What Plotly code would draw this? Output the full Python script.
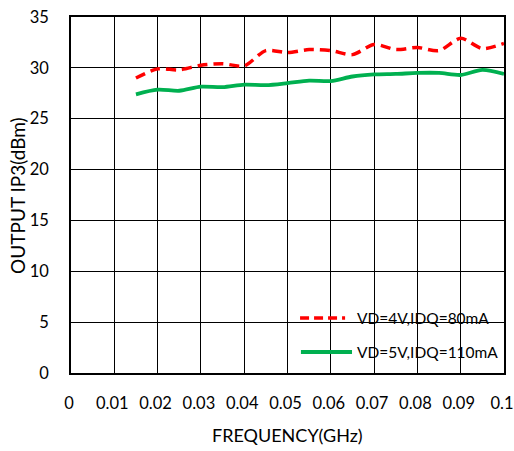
import plotly.graph_objects as go

freq = [0.015, 0.02, 0.025, 0.03, 0.035, 0.04, 0.045, 0.05, 0.055, 0.06,
        0.065, 0.07, 0.075, 0.08, 0.085, 0.09, 0.095, 0.1]
ip3_4v = [29.0, 29.9, 29.8, 30.25, 30.4, 30.2, 31.7, 31.5, 31.8, 31.7,
          31.3, 32.3, 31.8, 32.0, 31.7, 32.9, 31.9, 32.4]
ip3_5v = [27.4, 27.85, 27.75, 28.15, 28.1, 28.35, 28.3, 28.5, 28.75, 28.7,
          29.15, 29.35, 29.4, 29.5, 29.5, 29.3, 29.8, 29.4]
name_4v = "VD=4V,IDQ=80mA"
name_5v = "VD=5V,IDQ=110mA"
x_ticks = [0, 0.01, 0.02, 0.03, 0.04, 0.05, 0.06, 0.07, 0.08, 0.09, 0.1]
x_labels = ["0", "0.01", "0.02", "0.03", "0.04", "0.05", "0.06", "0.07", "0.08", "0.09", "0.1"]
y_ticks = [0, 5, 10, 15, 20, 25, 30, 35]

FONT = "Lato"
RED = "#FF0000"
GREEN = "#00B050"
RED_DASH = "10px,6px"

fig = go.Figure()
fig.add_trace(go.Scatter(x=freq, y=ip3_4v, mode="lines", name=name_4v, showlegend=False,
                         line=dict(color=RED, width=3.5, dash=RED_DASH, shape="spline", smoothing=0.8)))
fig.add_trace(go.Scatter(x=freq, y=ip3_5v, mode="lines", name=name_5v, showlegend=False,
                         line=dict(color=GREEN, width=3.8, shape="spline", smoothing=0.8)))

# legend area (white box covering gridlines)
fig.add_shape(type="rect", xref="paper", yref="paper", x0=0.513, x1=1.0, y0=0.0, y1=0.205,
              fillcolor="white", line=dict(width=0), layer="between")
# legend samples
fig.add_shape(type="line", xref="paper", yref="paper", x0=0.529, x1=0.633, y0=0.1545, y1=0.1545,
              line=dict(color=RED, width=3.5, dash="9px,5px"), layer="above")
fig.add_shape(type="line", xref="paper", yref="paper", x0=0.531, x1=0.649, y0=0.059, y1=0.059,
              line=dict(color=GREEN, width=3.8), layer="above")
fig.add_annotation(text=name_4v, xref="paper", yref="paper", x=0.656, y=0.1545, xanchor="left",
                   yanchor="middle", showarrow=False, font=dict(size=15.5, family=FONT))
fig.add_annotation(text=name_5v, xref="paper", yref="paper", x=0.656, y=0.059, xanchor="left",
                   yanchor="middle", showarrow=False, font=dict(size=15.5, family=FONT))

fig.update_layout(
    width=514, height=451, margin=dict(l=71, r=10, t=17, b=78, autoexpand=False),
    paper_bgcolor="white", plot_bgcolor="white",
    font=dict(family=FONT, size=16, color="black"),
    showlegend=False,
    xaxis=dict(range=[0, 0.1], tickvals=x_ticks, ticktext=x_labels, showgrid=True,
               gridcolor="black", gridwidth=1, showline=True, linecolor="black", linewidth=1.5,
               mirror=True, ticks="inside", ticklen=4, tickcolor="black", zeroline=False,
               ticklabelstandoff=14, ticklabelshift=-2, tickfont=dict(size=16.5),
               automargin=False, ticklabeloverflow="allow"),
    yaxis=dict(range=[0, 35], tickvals=y_ticks, showgrid=True, gridcolor="black", gridwidth=1,
               showline=True, linecolor="black", linewidth=1.5, mirror=True, ticks="inside",
               ticklen=4, tickcolor="black", zeroline=False, ticklabelstandoff=17,
               tickfont=dict(size=16.5), automargin=False, ticklabeloverflow="allow"),
)
fig.add_annotation(text="FREQUENCY(GHz)", xref="paper", yref="paper", x=0.5, y=-0.175,
                   showarrow=False, font=dict(size=18, family=FONT), yanchor="middle")
fig.add_annotation(text="OUTPUT IP3(dBm)", xref="paper", yref="paper", x=-0.125, y=0.5,
                   showarrow=False, textangle=-90, font=dict(size=19, family=FONT),
                   xanchor="center", yanchor="middle")
fig.write_html("out.html")
